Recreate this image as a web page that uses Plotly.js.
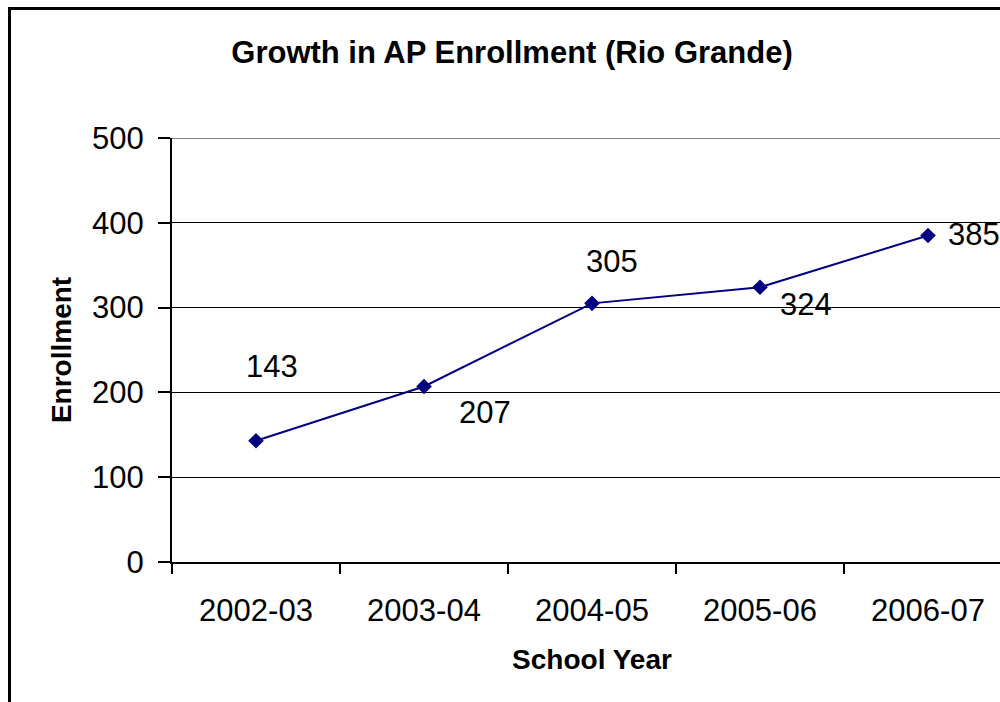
<!DOCTYPE html>
<html>
<head>
<meta charset="utf-8">
<script src="https://cdn.plot.ly/plotly-3.0.1.min.js"></script>
<style>
  html, body { margin: 0; padding: 0; overflow: hidden; width: 1000px; height: 702px; background: #fff; }
  #chart { position: absolute; left: 0; top: 0; }
  #frame { position: absolute; left: 8px; top: 7px; width: 1100px; height: 900px; border: 3px solid #000; pointer-events: none; }
</style>
</head>
<body>
<div id="chart"></div>
<div id="frame"></div>
<script>
const schoolYears = ["2002-03", "2003-04", "2004-05", "2005-06", "2006-07"];
const enrollment = [143, 207, 305, 324, 385];
const yTicks = [0, 100, 200, 300, 400, 500];

// label placement offsets in pixels (styling, not data)
const labelShiftX = [16, 61, 20, 46, 46];
const labelShiftY = [74, -26, 42, -17, 1];

const font = "Liberation Sans, Arial, sans-serif";

const trace = {
  x: schoolYears,
  y: enrollment,
  type: "scatter",
  mode: "lines+markers",
  line: { color: "#000080", width: 2 },
  marker: { symbol: "diamond", size: 12, color: "#000080" },
  hoverinfo: "x+y"
};

const annotations = schoolYears.map((c, i) => ({
  x: c, y: enrollment[i], xref: "x", yref: "y",
  text: String(enrollment[i]), showarrow: false,
  xshift: labelShiftX[i], yshift: labelShiftY[i],
  font: { family: font, size: 31, color: "#000" }
}));

const layout = {
  width: 1030, height: 702,
  margin: { l: 172, r: 18, t: 138, b: 140 },
  paper_bgcolor: "#fff", plot_bgcolor: "#fff",
  showlegend: false,
  title: {
    text: "<b>Growth in AP Enrollment (Rio Grande)</b>",
    font: { family: font, size: 31, color: "#000" },
    x: 512 / 1030, xref: "container", xanchor: "center",
    y: 1 - 52 / 702, yref: "container", yanchor: "middle"
  },
  xaxis: {
    type: "category",
    range: [-0.5, 4.5],
    tickson: "boundaries",
    ticks: "outside", ticklen: 10, tickwidth: 2, tickcolor: "#000",
    showline: true, linecolor: "#000", linewidth: 2,
    showgrid: false, zeroline: false,
    tickfont: { family: font, size: 31, color: "#000" },
    ticklabelstandoff: 20,
    title: { text: "<b>School Year</b>", font: { family: font, size: 28, color: "#000" }, standoff: 22 },
    fixedrange: true
  },
  yaxis: {
    range: [0, 500],
    tickvals: yTicks,
    ticks: "outside", ticklen: 12, tickwidth: 2, tickcolor: "#000",
    showline: true, linecolor: "#000", linewidth: 2,
    showgrid: true, gridcolor: "#000", gridwidth: 1,
    zeroline: false,
    tickfont: { family: font, size: 31, color: "#000" },
    ticklabelstandoff: 8,
    title: { text: "<b>Enrollment</b>", font: { family: font, size: 28, color: "#000" }, standoff: 12 },
    fixedrange: true
  },
  shapes: [{
    type: "line", xref: "paper", yref: "y", x0: 0, x1: 1, y0: 500, y1: 500,
    line: { color: "#808080", width: 2 }, layer: "above"
  }],
  annotations: annotations
};

Plotly.newPlot("chart", [trace], layout, { displayModeBar: false });
</script>
</body>
</html>
